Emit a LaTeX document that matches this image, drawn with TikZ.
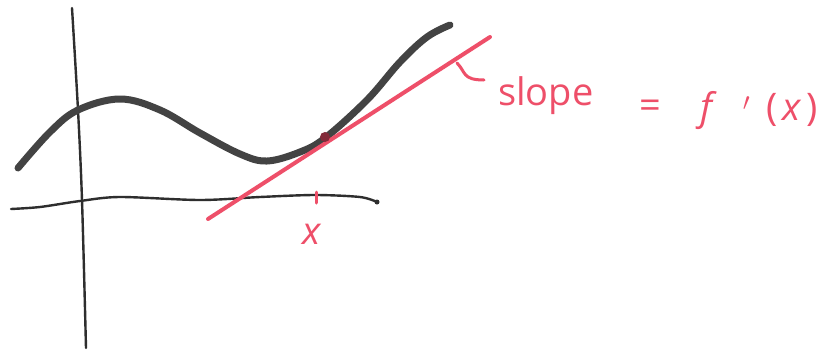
\documentclass[tikz,border=0pt]{standalone}
\usepackage{fontspec}
\setmainfont{Open Sans}
\definecolor{pen}{HTML}{2E2E2E}
\definecolor{ink}{HTML}{EE4F69}
\tikzset{
  axisline/.style={draw=pen, line width=2.4pt, line cap=round},
  graphline/.style={draw=pen!90, line width=7pt, line cap=round},
  tangentline/.style={draw=ink, line width=4pt, line cap=round},
  inkline/.style={draw=ink, line width=3pt, line cap=round},
  inktext/.style={text=ink, inner sep=0pt, font=\fontsize{38}{44}\selectfont}
}
\begin{document}
\begin{tikzpicture}[x=1pt,y=-1pt]
\useasboundingbox[fill=white] (0,0) rectangle (838,354);
% axes
\draw[axisline] plot[smooth] coordinates {(72,8) (78,110) (82,200) (86,348)};
\draw[axisline] plot[smooth] coordinates {(11,209) (40,207) (80,201) (120,197) (200,200) (260,197) (315,195) (360,197) (377,202)};
\fill[pen] (377,202) circle (2.5);
% curve
\draw[graphline] plot[smooth, tension=0.6] coordinates {(18,168) (50,132) (78,110) (120,99) (160,110) (200,133) (240,154) (267,161) (300,152) (325,138) (367,100) (400,62) (427,37) (450,25)};
% tangent line
\coordinate (t1) at (208,219);
\coordinate (t2) at (490,37);
\draw[tangentline] (t1) -- (t2);
\fill[ink!55!black] (325,137) circle (5);
% tick and label
\coordinate (tk1) at (316,192);
\coordinate (tk2) at (316,203);
\draw[inkline] (tk1) -- (tk2);
\node[inktext, anchor=base] (xl) at (312,244) {\textit{x}};
% hook
\draw[inkline] (457,63) .. controls (466,72) and (462,80) .. (484,80);
% slope label
\node[inktext, anchor=base west] (sl) at (498,105) {slope};
\node[inktext, anchor=base] (eq) at (650,118) {=};
\node[inktext, anchor=base west] (fx) at (700,120) {\textit{f}\hspace{26pt}$'$\hspace{16pt}(\hspace{5pt}\textit{x}\hspace{5pt})};
\end{tikzpicture}
\end{document}
